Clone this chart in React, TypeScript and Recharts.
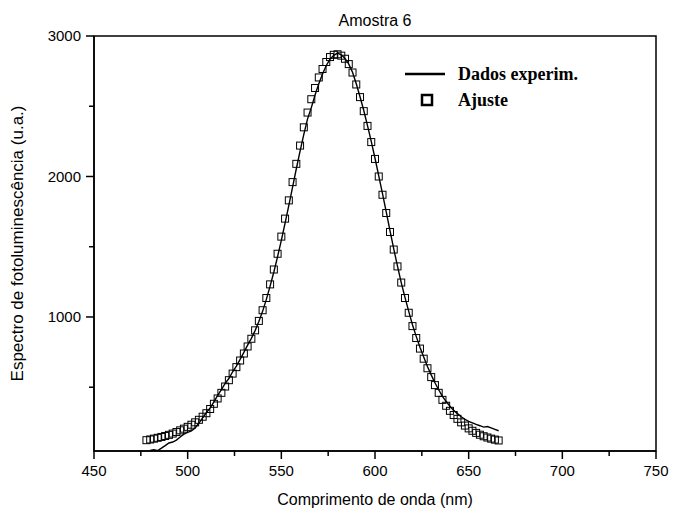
import React from 'react';
import { ComposedChart, Line, Scatter, XAxis, YAxis, ReferenceArea, Legend, Label } from 'recharts';

// Fitted curve (hollow squares), wavelength in nm
const fitNm = [
  478, 480, 482, 484, 486, 488, 490, 492, 494, 496, 498, 500, 502, 504, 506, 508, 510, 512, 514, 516,
  518, 520, 522, 524, 526, 528, 530, 532, 534, 536, 538, 540, 542, 544, 546, 548, 550, 552, 554, 556,
  558, 560, 562, 564, 566, 568, 570, 572, 574, 576, 578, 580, 582, 584, 586, 588, 590, 592, 594, 596,
  598, 600, 602, 604, 606, 608, 610, 612, 614, 616, 618, 620, 622, 624, 626, 628, 630, 632, 634, 636,
  638, 640, 642, 644, 646, 648, 650, 652, 654, 656, 658, 660, 662, 664, 666,
];
const fitVal = [
  123, 128, 134, 140, 146, 153, 161, 170, 181, 193, 205, 218, 233, 250, 268, 290, 315, 345, 382, 420,
  460, 505, 550, 597, 643, 690, 740, 790, 845, 905, 972, 1048, 1135, 1232, 1338, 1450, 1572, 1700, 1830, 1960,
  2090, 2220, 2350, 2455, 2550, 2630, 2705, 2765, 2815, 2850, 2866, 2870, 2860, 2838, 2800, 2740, 2655, 2565, 2465, 2360,
  2245, 2125, 2000, 1870, 1740, 1605, 1480, 1360, 1245, 1135, 1030, 935, 850, 775, 703, 635, 572, 515, 460, 410,
  368, 332, 302, 275, 250, 227, 207, 190, 175, 162, 151, 142, 134, 127, 121,
];

// Measured spectrum (solid line)
const expNm = [
  480, 482, 484, 486, 488, 490, 492, 494, 496, 498, 500, 502, 504, 506, 508, 510, 512, 514, 516, 518,
  520, 522, 524, 526, 528, 530, 532, 534, 536, 538, 540, 542, 544, 546, 548, 550, 552, 554, 556, 558,
  560, 562, 564, 566, 568, 570, 572, 574, 576, 578, 580, 582, 584, 586, 588, 590, 592, 594, 596, 598,
  600, 602, 604, 606, 608, 610, 612, 614, 616, 618, 620, 622, 624, 626, 628, 630, 632, 634, 636, 638,
  640, 642, 644, 646, 648, 650, 652, 654, 656, 658, 660, 662, 664, 666,
];
const expVal = [
  50, 55, 49, 66, 84, 103, 110, 124, 146, 166, 178, 190, 210, 245, 282, 320, 352, 395, 442, 482,
  528, 562, 610, 650, 698, 748, 800, 848, 903, 968, 1040, 1125, 1220, 1320, 1430, 1545, 1668, 1795, 1925, 2055,
  2180, 2300, 2410, 2490, 2580, 2660, 2730, 2790, 2835, 2862, 2878, 2866, 2840, 2800, 2742, 2660, 2568, 2470, 2362, 2250,
  2130, 2005, 1878, 1748, 1615, 1485, 1362, 1245, 1140, 1040, 945, 862, 785, 715, 648, 588, 532, 482, 435, 398,
  365, 335, 312, 290, 272, 257, 246, 235, 226, 216, 220, 210, 200, 190,
];

const xTicks = [450, 475, 500, 525, 550, 575, 600, 625, 650, 675, 700, 725, 750];
const yTicks = [500, 1000, 1500, 2000, 2500, 3000];
const X_MIN = 450;
const X_MAX = 750;
const Y_MIN = 46;
const Y_MAX = 3000;

const fitData = fitNm.map((nm, i) => ({ nm, v: fitVal[i] }));
const expData = expNm.map((nm, i) => ({ nm, v: expVal[i] }));

const SANS = 'Arial, "Liberation Sans", sans-serif';
const SERIF = '"Times New Roman", "Liberation Serif", serif';
const TICK_SIZE = 8;
const MINOR_SIZE = 5;
const X_MARGIN = 6;
const Y_MARGIN = 5;

// major ticks get a label, minor ticks only a short mark
const XTick = (props: any) => {
  const { x, y, payload } = props;
  const major = payload.value % 50 === 0;
  const axisY = y - TICK_SIZE - X_MARGIN;
  return (
    <g>
      <line x1={x} x2={x} y1={axisY} y2={axisY + (major ? TICK_SIZE : MINOR_SIZE)} stroke="#000" strokeWidth={1.5} />
      {major && (
        <text x={x} y={y} dy="0.71em" textAnchor="middle" fontFamily={SANS} fontSize={15} fill="#000">
          {payload.value}
        </text>
      )}
    </g>
  );
};

const YTick = (props: any) => {
  const { x, y, payload } = props;
  const major = payload.value % 1000 === 0;
  const axisX = x + TICK_SIZE + Y_MARGIN;
  return (
    <g>
      <line x1={axisX - (major ? TICK_SIZE : MINOR_SIZE)} x2={axisX} y1={y} y2={y} stroke="#000" strokeWidth={1.5} />
      {major && (
        <text x={x} y={y} dy="0.36em" textAnchor="end" fontFamily={SANS} fontSize={15} fill="#000">
          {payload.value}
        </text>
      )}
    </g>
  );
};

const HollowSquare = (props: any) => {
  const { cx, cy } = props;
  if (cx == null || cy == null) return null;
  return <rect x={cx - 3.5} y={cy - 3.5} width={7} height={7} fill="none" stroke="#000" strokeWidth={1} />;
};

const LegendBox = () => (
  <svg width={220} height={64} style={{ display: 'block' }}>
    <line x1={5} x2={45} y1={16} y2={16} stroke="#000" strokeWidth={2.5} />
    <text x={58} y={22} fontFamily={SERIF} fontWeight="bold" fontSize={18} fill="#000">
      Dados experim.
    </text>
    <rect x={22} y={37} width={10} height={10} fill="none" stroke="#000" strokeWidth={2.5} />
    <text x={58} y={48} fontFamily={SERIF} fontWeight="bold" fontSize={18} fill="#000">
      Ajuste
    </text>
  </svg>
);

export default function App() {
  return (
    <div style={{ position: 'absolute', left: 0, top: 0, width: 675, height: 516, background: '#fff' }}>
      <ComposedChart width={675} height={516} margin={{ top: 36, right: 19, bottom: 0, left: 0 }}>
        <XAxis
          type="number"
          dataKey="nm"
          domain={[X_MIN, X_MAX]}
          ticks={xTicks}
          interval={0}
          allowDataOverflow
          height={65}
          tickSize={TICK_SIZE}
          tickMargin={X_MARGIN}
          tickLine={false}
          tick={<XTick />}
          axisLine={{ stroke: '#000', strokeWidth: 1.5 }}
        >
          <Label
            content={(p: any) => {
              const vb = p.viewBox;
              return (
                <text x={vb.x + vb.width / 2} y={505} textAnchor="middle" fontFamily={SANS} fontSize={16} fill="#000">
                  Comprimento de onda (nm)
                </text>
              );
            }}
          />
        </XAxis>
        <YAxis
          type="number"
          domain={[Y_MIN, Y_MAX]}
          ticks={yTicks}
          interval={0}
          allowDataOverflow
          width={94}
          tickSize={TICK_SIZE}
          tickMargin={Y_MARGIN}
          tickLine={false}
          tick={<YTick />}
          axisLine={{ stroke: '#000', strokeWidth: 1.5 }}
        >
          <Label
            content={(p: any) => {
              const vb = p.viewBox;
              const cy = vb.y + vb.height / 2;
              return (
                <text
                  x={17}
                  y={cy}
                  transform={`rotate(-90, 17, ${cy})`}
                  textAnchor="middle"
                  dominantBaseline="central"
                  fontFamily={SANS}
                  fontSize={17}
                  fill="#000"
                >
                  Espectro de fotoluminescência (u.a.)
                </text>
              );
            }}
          />
        </YAxis>
        <ReferenceArea
          x1={X_MIN}
          x2={X_MAX}
          y1={Y_MIN}
          y2={Y_MAX}
          fill="none"
          fillOpacity={0}
          stroke="#000"
          strokeWidth={1.5}
          label={(p: any) => {
            const vb = p.viewBox;
            return (
              <text x={vb.x + vb.width / 2} y={vb.y - 10} textAnchor="middle" fontFamily={SANS} fontSize={16} fill="#000">
                Amostra 6
              </text>
            );
          }}
        />
        <Line
          data={expData}
          dataKey="v"
          type="linear"
          stroke="#000"
          strokeWidth={1.4}
          dot={false}
          isAnimationActive={false}
        />
        <Scatter data={fitData} dataKey="v" shape={HollowSquare} isAnimationActive={false} />
        <Legend
          layout="horizontal"
          align="center"
          verticalAlign="middle"
          content={<LegendBox />}
          wrapperStyle={{ position: 'absolute', left: 400, top: 58, width: 220, height: 64 }}
        />
      </ComposedChart>
    </div>
  );
}
